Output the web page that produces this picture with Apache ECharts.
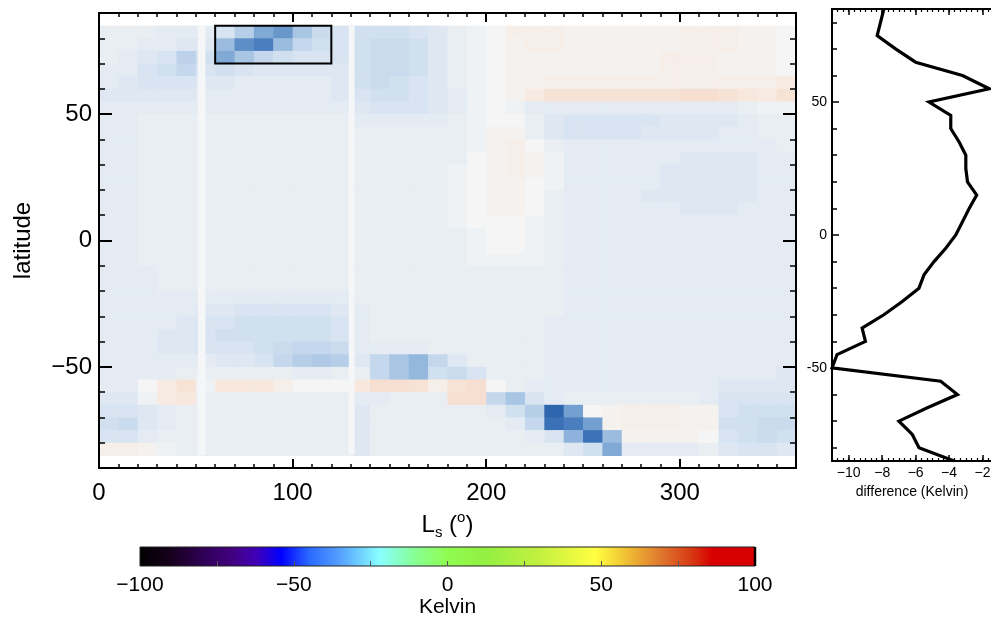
<!DOCTYPE html>
<html><head><meta charset="utf-8">
<script src="https://cdn.jsdelivr.net/npm/echarts@6/dist/echarts.min.js"></script>
<style>html,body{margin:0;padding:0;background:#fff}#c{width:991px;height:625px}</style>
</head><body><div id="c"></div>
<script>
// ---------------- data ----------------
// heat map cells: Ls column centres (deg) and latitude row centres (deg)
const lsCenters = [5,15,25,35,45,55,65,75,85,95,105,115,125,135,145,155,165,175,185,195,205,215,225,235,245,255,265,275,285,295,305,315,325,335,345,355];
const latCenters = [82.5,77.5,72.5,67.5,62.5,57.5,52.5,47.5,42.5,37.5,32.5,27.5,22.5,17.5,12.5,7.5,2.5,-2.5,-7.5,-12.5,-17.5,-22.5,-27.5,-32.5,-37.5,-42.5,-47.5,-52.5,-57.5,-62.5,-67.5,-72.5,-77.5,-82.5];
// temperature difference (K), one row per latitude band (north to south)
const heatRows = [
 [-2,-2,-2,-3,-3,-3, -5,-10,-18,-22,-12,-7, -5,-6,-6,-6,-5,-4, -2,-1,0,2,2,2, 1,1,1,1,1,1, 2,2,2,1,1,0],
 [-2,-2,-3,-3,-4,-4, -14,-24,-28,-14,-8,-6, -5,-6,-7,-7,-6,-4, -2,-1,0,1,2,2, 1,1,1,1,1,1, 2,2,2,1,1,0],
 [-2,-3,-4,-5,-9,-6, -18,-12,-8,-6,-5,-5, -5,-6,-7,-7,-6,-4, -2,-1,0,1,1,1, 1,1,1,1,1,2, 2,2,1,1,1,0],
 [-3,-3,-5,-6,-8,-5, -6,-5,-4,-4,-4,-4, -4,-6,-7,-7,-6,-4, -2,-1,0,1,1,1, 1,1,1,1,1,2, 2,2,1,1,1,0],
 [-3,-4,-5,-5,-5,-4, -4,-3,-3,-3,-3,-3, -4,-6,-7,-6,-5,-4, -2,-1,0,1,1,2, 2,2,2,2,2,2, 2,2,2,2,2,3],
 [-4,-4,-4,-4,-4,-3, -3,-3,-3,-3,-3,-3, -4,-5,-6,-6,-5,-4, -3,-1,0,1,3,5, 5,5,5,5,5,5, 6,6,5,4,3,5],
 [-3,-3,-3,-3,-3,-3, -3,-3,-3,-3,-3,-3, -3,-4,-5,-5,-5,-4, -3,-1,0,-1,-3,-3, -3,-3,-3,-3,-3,-3, -3,-3,-3,-2,-1,-1],
 [-3,-3,-2,-2,-2,-2, -2,-2,-2,-2,-2,-2, -2,-3,-3,-3,-3,-3, -2,-1,0,0,-2,-4, -5,-5,-5,-5,-5,-4, -4,-4,-4,-3,-2,-2],
 [-3,-3,-2,-2,-2,-2, -2,-2,-2,-2,-2,-2, -2,-2,-2,-2,-2,-2, -2,-1,1,1,-2,-4, -5,-5,-5,-5,-4,-4, -4,-4,-3,-3,-2,-2],
 [-3,-3,-2,-2,-2,-2, -2,-2,-2,-2,-2,-2, -2,-2,-2,-2,-2,-2, -2,-1,1,2,0,-2, -3,-3,-3,-3,-3,-3, -3,-3,-3,-3,-3,-2],
 [-3,-3,-2,-2,-2,-2, -2,-2,-2,-2,-2,-2, -2,-2,-2,-2,-2,-2, -2,0,1,2,1,-1, -3,-3,-3,-3,-3,-3, -4,-4,-4,-4,-3,-3],
 [-3,-3,-2,-2,-2,-2, -2,-2,-2,-2,-2,-2, -2,-2,-2,-2,-2,-2, -1,0,1,2,1,-1, -3,-3,-3,-3,-3,-4, -4,-4,-4,-4,-3,-3],
 [-3,-3,-2,-2,-2,-2, -2,-2,-2,-2,-2,-2, -2,-2,-2,-2,-2,-2, -1,0,1,1,0,-1, -3,-3,-3,-3,-3,-4, -4,-4,-4,-4,-3,-3],
 [-3,-3,-2,-2,-2,-2, -2,-2,-2,-2,-2,-2, -2,-2,-2,-2,-2,-2, -1,0,1,1,0,-2, -3,-3,-3,-3,-4,-4, -4,-4,-4,-4,-3,-3],
 [-3,-3,-2,-2,-2,-2, -2,-2,-2,-2,-2,-2, -2,-2,-2,-2,-2,-2, -1,0,1,1,0,-2, -3,-3,-3,-3,-3,-3, -4,-4,-4,-3,-3,-3],
 [-3,-3,-2,-2,-2,-2, -2,-2,-2,-2,-2,-2, -2,-2,-2,-2,-2,-2, -1,0,0,0,-1,-2, -3,-3,-3,-3,-3,-3, -3,-3,-3,-3,-3,-3],
 [-3,-3,-2,-2,-2,-2, -2,-2,-2,-2,-2,-2, -2,-2,-2,-2,-2,-2, -2,-1,0,0,-1,-2, -3,-3,-3,-3,-3,-3, -3,-3,-3,-3,-3,-3],
 [-3,-3,-2,-2,-2,-2, -2,-2,-2,-2,-2,-2, -2,-2,-2,-2,-2,-2, -2,-1,0,0,-1,-2, -3,-3,-3,-3,-3,-3, -3,-3,-3,-3,-3,-3],
 [-3,-3,-2,-2,-2,-2, -2,-2,-2,-2,-2,-2, -2,-2,-2,-2,-2,-2, -2,-1,-1,-1,-1,-2, -3,-3,-3,-3,-3,-3, -3,-3,-3,-3,-3,-3],
 [-3,-3,-3,-2,-2,-2, -2,-2,-2,-2,-2,-2, -2,-2,-2,-2,-2,-2, -2,-2,-2,-2,-2,-2, -3,-3,-3,-3,-3,-3, -3,-3,-3,-3,-3,-3],
 [-3,-3,-3,-2,-2,-2, -2,-2,-2,-2,-2,-2, -2,-2,-2,-2,-2,-2, -2,-2,-2,-2,-2,-2, -3,-3,-3,-3,-3,-3, -3,-3,-3,-3,-3,-3],
 [-3,-3,-3,-3,-3,-3, -3,-3,-3,-3,-3,-3, -3,-2,-2,-2,-2,-2, -2,-2,-2,-2,-2,-2, -3,-3,-3,-3,-3,-3, -3,-3,-3,-3,-3,-3],
 [-3,-3,-3,-3,-3,-4, -4,-5,-5,-5,-5,-5, -4,-3,-2,-2,-2,-2, -2,-2,-2,-2,-2,-2, -3,-3,-3,-3,-3,-3, -3,-3,-3,-3,-3,-3],
 [-3,-3,-3,-3,-4,-5, -5,-6,-6,-6,-6,-6, -5,-3,-2,-2,-2,-2, -2,-2,-2,-2,-2,-3, -3,-3,-3,-3,-3,-3, -3,-3,-3,-3,-3,-3],
 [-3,-3,-3,-4,-4,-5, -6,-6,-6,-6,-6,-6, -5,-3,-2,-2,-2,-2, -2,-2,-2,-2,-2,-3, -3,-3,-3,-3,-3,-3, -3,-3,-3,-3,-3,-3],
 [-3,-3,-3,-4,-4,-5, -5,-5,-6,-7,-8,-8, -7,-3,-3,-3,-3,-2, -2,-2,-2,-2,-2,-3, -3,-3,-3,-3,-3,-3, -3,-3,-3,-3,-3,-3],
 [-3,-3,-3,-3,-3,-3, -4,-4,-5,-8,-10,-11, -10,-4,-8,-12,-15,-8, -4,-2,-2,-2,-2,-3, -3,-3,-3,-3,-3,-3, -3,-3,-3,-3,-3,-3],
 [-3,-3,-3,-3,-2,-2, -2,-2,-2,-2,-3,-3, -2,-2,-8,-12,-15,-6, -7,-5,-2,-2,-2,-3, -3,-3,-3,-3,-3,-3, -3,-3,-3,-3,-3,-4],
 [-3,-3,0,3,5,-1, 4,4,4,2,0,0, 0,4,6,6,5,2, 5,6,0,-2,-3,-3, -3,-3,-3,-3,-3,-3, -3,-3,-4,-4,-4,-4],
 [-4,-4,-1,3,4,-2, -2,-2,-2,-2,-2,-2, -2,-3,-3,-2,-2,-2, 6,6,-8,-12,-5,-3, -2,-2,-2,-2,-2,-2, -2,-3,-5,-5,-5,-5],
 [-5,-5,-4,-3,-2,-2, -2,-2,-2,-2,-2,-2, -2,-4,-2,-2,-2,-2, -2,-2,-3,-6,-10,-36, -20,0,1,2,2,2, 1,1,-5,-6,-6,-6],
 [-6,-7,-4,-3,-2,-2, -2,-2,-2,-2,-2,-2, -2,-4,-2,-2,-2,-2, -2,-2,-2,-3,-8,-32, -28,-20,1,2,2,2, 1,1,-6,-6,-7,-7],
 [-5,-5,-3,-2,-2,-2, -2,-2,-2,-2,-2,-2, -2,-4,-2,-2,-2,-2, -2,-2,-2,-2,-3,-5, -16,-32,-14,1,1,1, 1,0,-5,-6,-7,-6],
 [2,2,1,-1,-2,-2, -2,-2,-2,-2,-2,-2, -2,-4,-2,-2,-2,-2, -2,-2,-2,-2,-2,-2, -4,-6,-18,-3,-3,-3, -3,-2,-4,-5,-5,-4]
];
// data gaps (Ls ranges with no data) and the outlined region [Ls0, Ls1, lat0, lat1]
const gapStrips = [[51,55],[129,132]];
const gapLatRange = [-85, 85];
const boxRegion = [[60,120,70,85]];
// main axes ticks
const lsTicks = [0,100,200,300];
const latTicks = [-50,0,50];
// zonal mean difference (right panel)
const diffLat = [85,80,75,70,65,60,55,50,45,40,35,30,25,20,15,10,5,0,-5,-10,-15,-20,-25,-30,-35,-40,-45,-50,-55,-60,-65,-70,-75,-80,-85];
const diffVal = [-7.9,-8.1,-8.3,-7.2,-6.0,-3.2,-1.6,-5.2,-3.9,-3.9,-3.4,-3.0,-3.0,-2.9,-2.35,-2.8,-3.2,-3.6,-4.2,-4.9,-5.5,-5.8,-6.8,-7.9,-9.2,-9.0,-10.7,-11.0,-4.5,-3.5,-5.3,-7.0,-6.2,-5.8,-3.7];
const diffTicks = [-10,-8,-6,-4,-2,0];
const diffLatTicks = [-50,0,50];
const diffLatMinor = [-80,-70,-60,-40,-30,-20,-10,10,20,30,40,60,70,80];
// colour bar
const cbTicks = [-100,-50,0,50,100];
const cbMinorTicks = [-75,-50,-25,0,25,50,75];
const cbStops = [[-100,'#000000'],[-90,'#16001c'],[-80,'#2e0052'],[-70,'#420080'],[-62,'#4000b8'],[-54,'#0000ff'],[-45,'#2a68ff'],[-35,'#55a0ff'],[-22,'#88ffff'],[-11,'#88ff98'],[0,'#90fc50'],[12,'#92f042'],[30,'#c4f040'],[48,'#ffff40'],[58,'#f0c034'],[68,'#e08030'],[79,'#d83a14'],[86,'#d80000'],[100,'#d80000']];
// diverging colour map for the heat map (K)
const heatColors = ['#0f3a78','#1a4c92','#245ca5','#3168b0','#4277ba','#5889c4','#74a0d1','#94b7dd','#b6cee8','#d8e4f1','#f5f5f5','#f7e3d6','#f2cdb6','#ebb596','#e19a76','#d57e59','#c7623f','#b74a2e','#a33522','#8c2219','#731212'];

// ---------------- chart ----------------
const chart = echarts.init(document.getElementById('c'));
const FONT = '"Liberation Sans", Arial, Helvetica, sans-serif';
const minus = v => String(v).replace('-', '\u2212');

const heatData = [];
heatRows.forEach((row, r) => row.forEach((v, c) => heatData.push([lsCenters[c], latCenters[r], v])));
const halfW = (lsCenters[1] - lsCenters[0]) / 2;
const halfH = (latCenters[0] - latCenters[1]) / 2;

const blackLine = {show: true, onZero: false, lineStyle: {color: '#000', width: 2}};
const noLine = {show: false, onZero: false};

const grids = [
  {left: 99, top: 13, width: 697, height: 455, outerBoundsMode: 'none'},   // main, major
  {left: 99, top: 13, width: 697, height: 455, outerBoundsMode: 'none'},   // main, minor
  {left: 832, top: 9, width: 184, height: 452, outerBoundsMode: 'none'},   // right panel major
  {left: 832, top: 9, width: 184, height: 452, outerBoundsMode: 'none'},   // right panel minor
  {left: 140, top: 547, width: 615, height: 19, outerBoundsMode: 'none'}   // colour bar
];

const xAxes = [
  // 0 main bottom major
  {gridIndex: 0, type: 'value', position: 'bottom', min: 0, max: 360, interval: 100, z: 5,
   axisLine: blackLine, splitLine: {show: false},
   axisTick: {inside: true, length: 9, customValues: lsTicks, lineStyle: {color: '#000', width: 2}},
   axisLabel: {customValues: lsTicks, margin: 13, fontSize: 24, color: '#000', fontFamily: FONT, formatter: minus},
   name: '{a|L}{s|s}{a| (}{o|o}{a|)}', nameLocation: 'middle', nameGap: 33,
   nameTextStyle: {fontFamily: FONT, color: '#000', rich: {
     a: {fontSize: 24, fontFamily: FONT, color: '#000', lineHeight: 30},
     s: {fontSize: 15, fontFamily: FONT, color: '#000', verticalAlign: 'bottom', lineHeight: 14},
     o: {fontSize: 15, fontFamily: FONT, color: '#000', verticalAlign: 'top', lineHeight: 14}}}},
  // 1 main top major
  {gridIndex: 0, type: 'value', position: 'top', min: 0, max: 360, interval: 100, z: 5,
   axisLine: blackLine, splitLine: {show: false}, axisLabel: {show: false},
   axisTick: {inside: true, length: 9, customValues: lsTicks, lineStyle: {color: '#000', width: 2}}},
  // 2 main bottom minor
  {gridIndex: 1, type: 'value', position: 'bottom', min: 0, max: 360, interval: 10, z: 5,
   axisLine: noLine, splitLine: {show: false}, axisLabel: {show: false},
   axisTick: {inside: true, length: 4, lineStyle: {color: '#000', width: 1.5}}},
  // 3 main top minor
  {gridIndex: 1, type: 'value', position: 'top', min: 0, max: 360, interval: 10, z: 5,
   axisLine: noLine, splitLine: {show: false}, axisLabel: {show: false},
   axisTick: {inside: true, length: 4, lineStyle: {color: '#000', width: 1.5}}},
  // 4 right bottom major
  {gridIndex: 2, type: 'value', position: 'bottom', min: -11, max: 0, z: 5,
   axisLine: blackLine, splitLine: {show: false},
   axisTick: {inside: true, length: 6, customValues: diffTicks, lineStyle: {color: '#000', width: 1.5}},
   axisLabel: {customValues: diffTicks, margin: 5, fontSize: 14, color: '#000', fontFamily: FONT, formatter: minus},
   name: 'difference (Kelvin)', nameLocation: 'middle', nameGap: 24,
   nameTextStyle: {fontSize: 14, color: '#000', fontFamily: FONT, padding: [0, 24, 0, 0]}},
  // 5 right top major
  {gridIndex: 2, type: 'value', position: 'top', min: -11, max: 0, z: 5,
   axisLine: blackLine, splitLine: {show: false}, axisLabel: {show: false},
   axisTick: {inside: true, length: 6, customValues: diffTicks, lineStyle: {color: '#000', width: 1.5}}},
  // 6 right bottom minor
  {gridIndex: 3, type: 'value', position: 'bottom', min: -11, max: 0, interval: 1/3, z: 5,
   axisLine: noLine, splitLine: {show: false}, axisLabel: {show: false},
   axisTick: {inside: true, length: 3, lineStyle: {color: '#000', width: 1.2}}},
  // 7 right top minor
  {gridIndex: 3, type: 'value', position: 'top', min: -11, max: 0, interval: 1/3, z: 5,
   axisLine: noLine, splitLine: {show: false}, axisLabel: {show: false},
   axisTick: {inside: true, length: 3, lineStyle: {color: '#000', width: 1.2}}},
  // 8 colour bar
  {gridIndex: 4, type: 'value', position: 'bottom', min: -100, max: 100, interval: 50, z: 5,
   axisLine: noLine, splitLine: {show: false},
   axisTick: {inside: true, length: 5, customValues: cbMinorTicks, lineStyle: {color: '#555', width: 1}},
   axisLabel: {customValues: cbTicks, margin: 9, fontSize: 21, color: '#000', fontFamily: FONT, formatter: minus},
   name: 'Kelvin', nameLocation: 'middle', nameGap: 30,
   nameTextStyle: {fontSize: 21, color: '#000', fontFamily: FONT}}
];

const yAxes = [
  // 0 main left major
  {gridIndex: 0, type: 'value', position: 'left', min: -90, max: 90, z: 5,
   axisLine: blackLine, splitLine: {show: false},
   axisTick: {inside: true, length: 13, customValues: latTicks, lineStyle: {color: '#000', width: 2}},
   axisLabel: {customValues: latTicks, margin: 7, fontSize: 24, color: '#000', fontFamily: FONT, formatter: minus},
   name: 'latitude', nameLocation: 'middle', nameGap: 64,
   nameTextStyle: {fontSize: 24, color: '#000', fontFamily: FONT}},
  // 1 main right major
  {gridIndex: 0, type: 'value', position: 'right', min: -90, max: 90, z: 5,
   axisLine: blackLine, splitLine: {show: false}, axisLabel: {show: false},
   axisTick: {inside: true, length: 13, customValues: latTicks, lineStyle: {color: '#000', width: 2}}},
  // 2 main left minor
  {gridIndex: 1, type: 'value', position: 'left', min: -90, max: 90, interval: 10, z: 5,
   axisLine: noLine, splitLine: {show: false}, axisLabel: {show: false},
   axisTick: {inside: true, length: 6, lineStyle: {color: '#000', width: 1.5}}},
  // 3 main right minor
  {gridIndex: 1, type: 'value', position: 'right', min: -90, max: 90, interval: 10, z: 5,
   axisLine: noLine, splitLine: {show: false}, axisLabel: {show: false},
   axisTick: {inside: true, length: 6, lineStyle: {color: '#000', width: 1.5}}},
  // 4 right panel left major
  {gridIndex: 2, type: 'value', position: 'left', min: -85, max: 85, z: 5,
   axisLine: blackLine, splitLine: {show: false},
   axisTick: {inside: true, length: 7, customValues: diffLatTicks, lineStyle: {color: '#000', width: 1.5}},
   axisLabel: {customValues: diffLatTicks, margin: 5, fontSize: 14, color: '#000', fontFamily: FONT}},
  // 5 right panel left minor
  {gridIndex: 3, type: 'value', position: 'left', min: -85, max: 85, z: 5,
   axisLine: noLine, splitLine: {show: false}, axisLabel: {show: false},
   axisTick: {inside: true, length: 5, customValues: diffLatMinor, lineStyle: {color: '#000', width: 1.5}}},
  // 6 colour bar
  {gridIndex: 4, type: 'value', min: 0, max: 1, show: false}
];

const cbMin = cbStops[0][0], cbMax = cbStops[cbStops.length - 1][0];
const gradStops = cbStops.map(s => ({offset: (s[0] - cbMin) / (cbMax - cbMin), color: s[1]}));

const option = {
  animation: false,
  backgroundColor: '#fff',
  grid: grids,
  xAxis: xAxes,
  yAxis: yAxes,
  visualMap: [{
    show: false, type: 'continuous', seriesIndex: 0, dimension: 2,
    min: -50, max: 50, inRange: {color: heatColors}
  }],
  series: [
    { // 0 heat map
      type: 'custom', xAxisIndex: 0, yAxisIndex: 0, z: 1,
      encode: {x: 0, y: 1},
      data: heatData,
      renderItem: function (params, api) {
        const x = api.value(0), y = api.value(1);
        const p0 = api.coord([x - halfW, y + halfH]);
        const p1 = api.coord([x + halfW, y - halfH]);
        return {type: 'rect', shape: {x: p0[0], y: p0[1], width: p1[0] - p0[0] + 0.6, height: p1[1] - p0[1] + 0.6},
                style: {fill: api.visual('color')}};
      }
    },
    { // 1 data gaps
      type: 'custom', xAxisIndex: 0, yAxisIndex: 0, z: 2,
      encode: {x: [0, 1]},
      data: gapStrips,
      renderItem: function (params, api) {
        const p0 = api.coord([api.value(0), gapLatRange[1]]);
        const p1 = api.coord([api.value(1), gapLatRange[0]]);
        return {type: 'rect', shape: {x: p0[0], y: p0[1], width: p1[0] - p0[0], height: p1[1] - p0[1]},
                style: {fill: '#f4f6f8'}};
      }
    },
    { // 2 outlined box
      type: 'custom', xAxisIndex: 0, yAxisIndex: 0, z: 3,
      encode: {x: [0, 1], y: [2, 3]},
      data: boxRegion,
      renderItem: function (params, api) {
        const p0 = api.coord([api.value(0), api.value(3)]);
        const p1 = api.coord([api.value(1), api.value(2)]);
        return {type: 'rect', shape: {x: p0[0], y: p0[1], width: p1[0] - p0[0], height: p1[1] - p0[1]},
                style: {fill: 'none', stroke: '#000', lineWidth: 2}};
      }
    },
    { // 3 difference profile
      type: 'line', xAxisIndex: 4, yAxisIndex: 4, z: 3,
      data: diffLat.map((lat, i) => [diffVal[i], lat]),
      showSymbol: false, symbol: 'none',
      lineStyle: {color: '#000', width: 3.2, join: 'miter'}
    },
    { // 4 colour bar
      type: 'custom', xAxisIndex: 8, yAxisIndex: 6, z: 2,
      encode: {x: [0, 1]},
      data: [[cbMin, cbMax]],
      renderItem: function (params, api) {
        const p0 = api.coord([api.value(0), 1]);
        const p1 = api.coord([api.value(1), 0]);
        return {type: 'group', children: [
          {type: 'rect', shape: {x: p0[0], y: p0[1], width: p1[0] - p0[0], height: p1[1] - p0[1]},
           style: {fill: new echarts.graphic.LinearGradient(0, 0, 1, 0, gradStops), stroke: '#222', lineWidth: 1}},
          {type: 'line', shape: {x1: p1[0], y1: p0[1], x2: p1[0], y2: p1[1]}, style: {stroke: '#000', lineWidth: 2.5}}
        ]};
      }
    }
  ]
};
chart.setOption(option);
</script>
</body></html>
